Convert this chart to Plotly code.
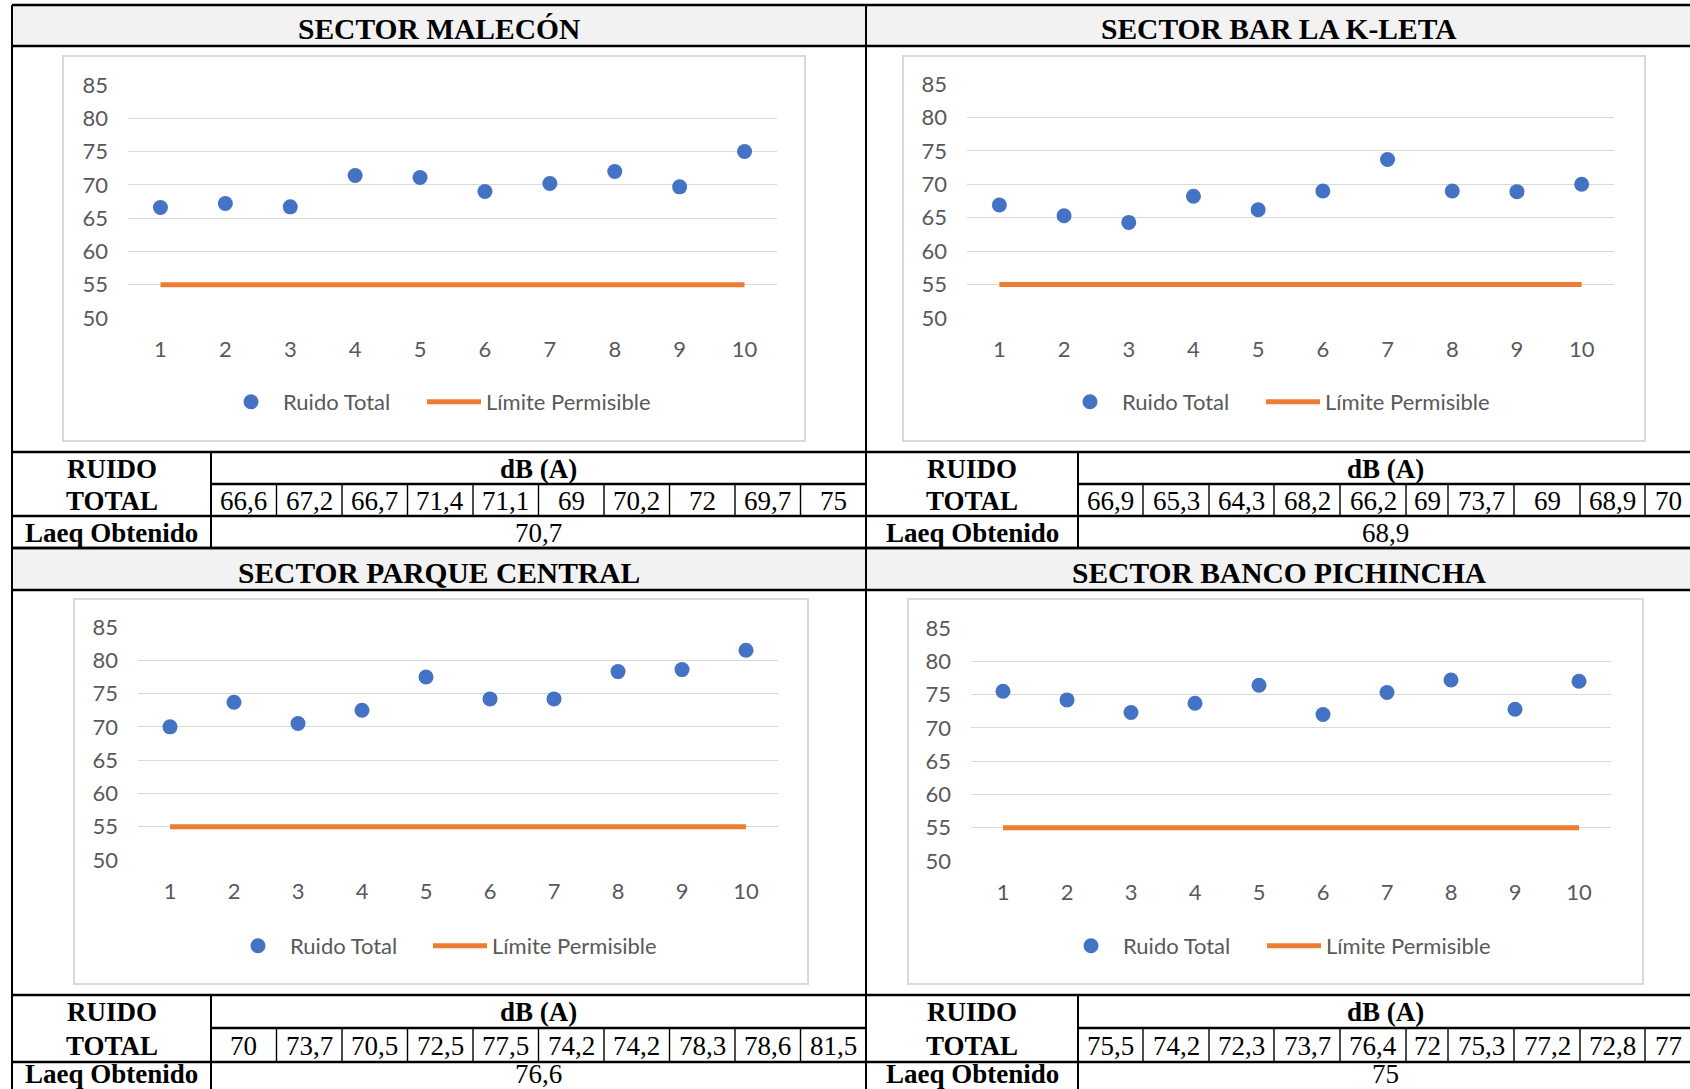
import plotly.graph_objects as go

# ---------------------------------------------------------------- data
SECTORES = ["SECTOR MALECÓN", "SECTOR BAR LA K-LETA",
            "SECTOR PARQUE CENTRAL", "SECTOR BANCO PICHINCHA"]
PUNTOS = [1, 2, 3, 4, 5, 6, 7, 8, 9, 10]
RUIDO_MALECON = [66.6, 67.2, 66.7, 71.4, 71.1, 69, 70.2, 72, 69.7, 75]
RUIDO_KLETA = [66.9, 65.3, 64.3, 68.2, 66.2, 69, 73.7, 69, 68.9, 70]
RUIDO_PARQUE = [70, 73.7, 70.5, 72.5, 77.5, 74.2, 74.2, 78.3, 78.6, 81.5]
RUIDO_BANCO = [75.5, 74.2, 72.3, 73.7, 76.4, 72, 75.3, 77.2, 72.8, 77]
LIMITE_PERMISIBLE = [55, 55, 55, 55, 55, 55, 55, 55, 55, 55]
LAEQ_OBTENIDO = [70.7, 68.9, 76.6, 75]
Y_TICKS = [50, 55, 60, 65, 70, 75, 80, 85]

RUIDO = [RUIDO_MALECON, RUIDO_KLETA, RUIDO_PARQUE, RUIDO_BANCO]

# ---------------------------------------------------------------- page geometry (px)
W, H = 1690, 1089
LEFT_EDGE, MID, RIGHT_EDGE = 12, 866, 1692
BLUE, ORANGE = "#4472C4", "#ED7D31"
GRID, FRAME, TXT = "#d9d9d9", "#d9d9d9", "#595959"
SANS = "Lato"
SERIF = "Liberation Serif"

# column edges of the value cells of each table half
LEFT_CELLS = [211 + 65.5 * k for k in range(11)]
RIGHT_CELLS = [1078, 1143, 1209, 1274, 1340, 1406, 1448, 1514, 1580, 1645, 1692]

# per block: header top/bottom, table row lines, text centre of each row
BLOCKS = [
    dict(head=(5, 46), rows=(452, 484, 516, 548), text=(469, 501, 533)),
    dict(head=(548, 590), rows=(995, 1028, 1062, 1095), text=(1012, 1046, 1074)),
]

# plot area, chart frame, legend anchors (marker entry x, line entry x, y)
PANELS = [
    dict(plot=(128, 777, 85, 318), frame=(63, 805, 56, 441), leg=(219, 422, 402), half=0, block=0),
    dict(plot=(967, 1614, 84, 318), frame=(903, 1645, 56, 441), leg=(1058, 1261, 402), half=1, block=0),
    dict(plot=(138, 778, 627, 860), frame=(74, 808, 599, 984), leg=(226, 428, 946), half=0, block=1),
    dict(plot=(971, 1611, 628, 861), frame=(908, 1643, 599, 984), leg=(1059, 1262, 946), half=1, block=1),
]


def px(x):
    return x / W


def py(y):
    return 1 - y / H


def fmt(v):
    return f"{v:g}".replace(".", ",")


def legend_box(x, y):
    return dict(
        orientation="h", x=px(x), y=py(y),
        xanchor="left", yanchor="middle", bgcolor="rgba(0,0,0,0)",
        font=dict(family=SANS, size=22, color=TXT), itemclick=False,
        itemdoubleclick=False, itemwidth=54,
    )


fig = go.Figure()
shapes, annotations = [], []
layout_axes = {}
legends = {}

for i, (panel, serie) in enumerate(zip(PANELS, RUIDO)):
    n = "" if i == 0 else str(i + 1)
    leg_a = "legend" if i == 0 else f"legend{2 * i + 1}"
    leg_b = f"legend{2 * i + 2}"
    x0, x1, y0, y1 = panel["plot"]

    fig.add_trace(go.Scatter(
        x=PUNTOS, y=serie, mode="markers", name="Ruido Total",
        marker=dict(color=BLUE, size=15), cliponaxis=False,
        xaxis=f"x{n}", yaxis=f"y{n}", legend=leg_a,
    ))
    fig.add_trace(go.Scatter(
        x=PUNTOS, y=LIMITE_PERMISIBLE, mode="lines", name="Límite Permisible",
        line=dict(color=ORANGE, width=5), cliponaxis=False,
        xaxis=f"x{n}", yaxis=f"y{n}", legend=leg_b,
    ))

    layout_axes[f"xaxis{n}"] = dict(
        domain=[px(x0), px(x1)], anchor=f"y{n}", range=[0.5, 10.5],
        tickmode="array", tickvals=PUNTOS, showgrid=False, zeroline=False,
        showline=False, ticks="", ticklabelstandoff=16,
        tickfont=dict(family=SANS, size=22, color=TXT), fixedrange=True,
    )
    layout_axes[f"yaxis{n}"] = dict(
        domain=[py(y1), py(y0)], anchor=f"x{n}", range=[50, 85],
        tickmode="array", tickvals=Y_TICKS, showgrid=True, gridcolor=GRID,
        gridwidth=1.3, zeroline=False, showline=False, ticks="",
        ticklabelstandoff=19,
        tickfont=dict(family=SANS, size=22, color=TXT), fixedrange=True,
    )
    la, lb, ly = panel["leg"]
    legends[leg_a] = legend_box(la, ly)
    legends[leg_b] = legend_box(lb, ly)

    # chart frame
    fx0, fx1, fy0, fy1 = panel["frame"]
    shapes.append(dict(type="rect", xref="paper", yref="paper", layer="below",
                       x0=px(fx0), x1=px(fx1), y0=py(fy1), y1=py(fy0),
                       fillcolor="white", line=dict(color=FRAME, width=2)))

    # table under the chart
    block = BLOCKS[panel["block"]]
    hx0 = LEFT_EDGE if panel["half"] == 0 else MID
    hx1 = MID if panel["half"] == 0 else RIGHT_EDGE
    cells = LEFT_CELLS if panel["half"] == 0 else RIGHT_CELLS
    h0, h1 = block["head"]
    r0, r1, r2, r3 = block["rows"]
    t0, t1, t2 = block["text"]

    # sector header band
    shapes.append(dict(type="rect", xref="paper", yref="paper", layer="below",
                       x0=px(hx0), x1=px(hx1), y0=py(h1), y1=py(h0),
                       fillcolor="#f2f2f2", line=dict(width=0)))
    annotations.append(dict(text=SECTORES[i], x=px((hx0 + hx1) / 2), y=py((h0 + h1) / 2 + 3.5),
                            font=dict(family=SERIF, size=29.5, color="black", weight="bold")))

    def hline(y, xa, xb, w=2.6):
        shapes.append(dict(type="line", xref="paper", yref="paper",
                           x0=px(xa), x1=px(xb), y0=py(y), y1=py(y),
                           line=dict(color="black", width=w)))

    def vline(x, ya, yb, w=1.4):
        shapes.append(dict(type="line", xref="paper", yref="paper",
                           x0=px(x), x1=px(x), y0=py(ya), y1=py(yb),
                           line=dict(color="black", width=w)))

    hline(h0, hx0, hx1)
    hline(h1, hx0, hx1)
    hline(r0, hx0, hx1)
    hline(r1, cells[0], hx1)
    hline(r2, hx0, hx1)
    hline(r3, hx0, hx1)
    vline(cells[0], r0, r3, 2)
    for cx in cells[1:-1]:
        vline(cx, r1, r2)

    lab_x = px((hx0 + cells[0]) / 2)
    val_x = px((cells[0] + hx1) / 2)
    bold = dict(family=SERIF, size=27, color="black", weight="bold")
    reg = dict(family=SERIF, size=27, color="black")
    annotations.append(dict(text="RUIDO", x=lab_x, y=py(t0), font=bold))
    annotations.append(dict(text="TOTAL", x=lab_x, y=py(t1), font=bold))
    annotations.append(dict(text="Laeq Obtenido", x=lab_x, y=py(t2), font=bold))
    annotations.append(dict(text="dB (A)", x=val_x, y=py(t0), font=bold))
    annotations.append(dict(text=fmt(LAEQ_OBTENIDO[i]), x=val_x, y=py(t2), font=reg))
    for k, v in enumerate(serie):
        annotations.append(dict(text=fmt(v), x=px((cells[k] + cells[k + 1]) / 2),
                                y=py(t1), font=reg))

# outer borders and the divider between the two columns of sectors
for xb in (LEFT_EDGE, MID):
    shapes.append(dict(type="line", xref="paper", yref="paper",
                       x0=px(xb), x1=px(xb), y0=py(5), y1=py(1095),
                       line=dict(color="black", width=2)))

for a in annotations:
    a.update(xref="paper", yref="paper", showarrow=False,
             xanchor="center", yanchor="middle")

fig.update_layout(
    width=W, height=H,
    margin=dict(l=0, r=0, t=0, b=0, autoexpand=False),
    paper_bgcolor="white", plot_bgcolor="rgba(0,0,0,0)",
    shapes=shapes, annotations=annotations, showlegend=True,
    **layout_axes, **legends,
)

fig.write_html("out.html", config={"displayModeBar": False})
